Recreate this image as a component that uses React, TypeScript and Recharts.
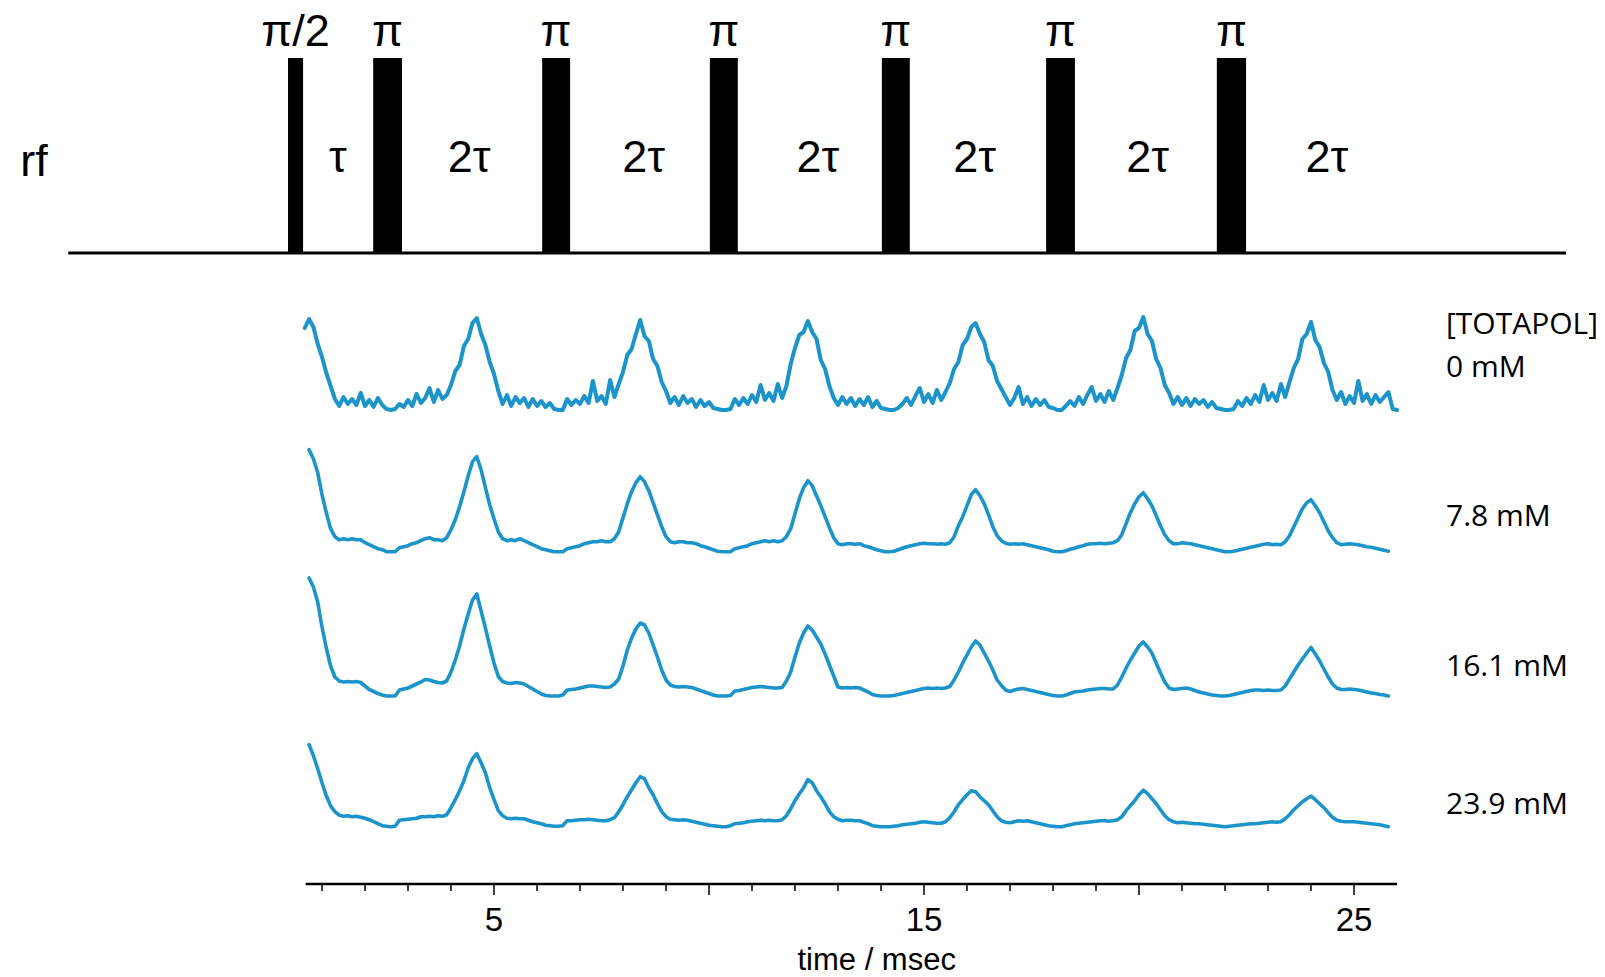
import {
  ComposedChart,
  Line,
  XAxis,
  YAxis,
  ReferenceArea,
  ReferenceLine,
  ReferenceDot,
} from "recharts";

// ---- data ------------------------------------------------------------

// pulse sequence (times in ms)
const pulseLabels = ["π/2", "π", "π", "π", "π", "π", "π"];
const pulseStart = [0.21, 2.19, 6.12, 10.02, 14.02, 17.84, 21.81];
const pulseEnd = [0.56, 2.86, 6.77, 10.67, 14.67, 18.51, 22.49];
const delayLabels = ["τ", "2τ", "2τ", "2τ", "2τ", "2τ", "2τ"];
const delayCenters = [1.37, 4.42, 8.48, 12.53, 16.18, 20.2, 24.37];

// echo trains, one sample every 0.1 ms, signal in a.u. above each baseline
const traceLabels = ["0 mM", "7.8 mM", "16.1 mM", "23.9 mM"];
const traceStart = [0.6, 0.7, 0.7, 0.7];
const SAMPLE_STEP = 0.1;

const signal0mM = [
  8.2, 9.1, 8.3, 6.6, 5.3, 3.7, 2.4, 1.1, 0.4, 1.3,
  0.6, 1.1, 0.5, 1.7, 0.4, 1.0, 0.3, 1.2, 0.5, 0.1,
  0.0, 0.1, 0.6, 0.3, 1.0, 0.4, 1.6, 0.7, 1.2, 2.2,
  0.8, 2.0, 1.1, 1.5, 2.5, 3.9, 4.5, 6.4, 7.1, 8.7,
  9.2, 7.6, 6.5, 4.8, 3.6, 1.9, 0.6, 1.5, 0.4, 1.3,
  0.7, 1.2, 0.3, 1.1, 0.4, 0.9, 0.3, 0.7, 0.1, 0.0,
  0.0, 1.1, 0.5, 1.0, 0.6, 1.4, 0.7, 2.9, 0.9, 1.4,
  0.6, 3.0, 1.3, 2.6, 3.8, 5.5, 6.1, 7.6, 9.0, 7.4,
  6.9, 5.1, 4.4, 2.8, 1.9, 0.7, 1.3, 0.5, 1.4, 0.7,
  1.1, 0.3, 1.0, 0.4, 0.8, 0.2, 0.1, 0.0, 0.0, 0.1,
  1.1, 0.5, 1.2, 0.6, 1.5, 0.8, 2.5, 1.0, 1.7, 0.9,
  2.6, 1.2, 2.4, 4.6, 6.2, 7.5, 7.8, 8.9, 7.8, 7.1,
  5.0, 4.1, 2.4, 1.2, 0.5, 1.3, 0.6, 1.2, 0.4, 1.1,
  0.5, 1.3, 0.3, 0.9, 0.2, 0.1, 0.0, 0.0, 0.2, 0.6,
  1.2, 0.5, 1.4, 2.2, 0.8, 1.6, 0.7, 2.0, 1.0, 1.8,
  2.7, 4.1, 4.8, 6.5, 7.1, 8.3, 8.7, 7.6, 6.8, 5.0,
  4.4, 2.9, 2.1, 1.3, 0.5, 1.2, 2.3, 0.6, 1.3, 0.4,
  1.1, 0.5, 1.0, 0.3, 0.2, 0.0, 0.0, 0.4, 0.9, 0.4,
  1.3, 0.6, 1.5, 2.3, 0.9, 1.6, 0.8, 1.9, 1.0, 2.2,
  3.5, 5.2, 6.0, 7.9, 8.2, 9.3, 7.6, 6.9, 5.1, 4.2,
  2.5, 1.7, 0.6, 1.3, 0.5, 1.2, 0.4, 1.1, 0.6, 1.0,
  0.3, 0.8, 0.2, 0.1, 0.0, 0.0, 0.1, 0.9, 0.4, 1.2,
  0.6, 1.5, 0.8, 2.5, 1.0, 1.7, 0.9, 2.6, 1.3, 2.8,
  4.2, 5.1, 7.1, 7.6, 8.8, 7.0, 6.3, 4.7, 3.8, 2.0,
  1.0, 1.8, 0.6, 1.4, 0.7, 2.9, 0.9, 1.6, 0.6, 1.5,
  0.8, 1.3, 1.8, 0.1, 0.0,
];

const signal7_8mM = [
  10.2, 9.3, 7.9, 5.7, 3.9, 2.3, 1.5, 1.2, 1.3, 1.2,
  1.3, 1.2, 1.2, 0.9, 0.7, 0.5, 0.3, 0.2, 0.0, 0.0,
  0.0, 0.4, 0.5, 0.6, 0.8, 0.9, 1.1, 1.3, 1.4, 1.2,
  1.2, 1.1, 1.4, 2.2, 3.2, 4.5, 6.0, 7.6, 9.0, 9.5,
  8.2, 6.4, 4.7, 3.3, 2.0, 1.3, 1.1, 1.2, 1.1, 1.3,
  1.1, 0.9, 0.7, 0.5, 0.3, 0.2, 0.1, 0.0, 0.0, 0.0,
  0.3, 0.4, 0.5, 0.6, 0.8, 0.9, 1.0, 1.0, 1.1, 1.0,
  1.0, 1.3, 2.0, 3.4, 4.8, 6.0, 6.9, 7.5, 7.0, 6.1,
  4.9, 3.7, 2.5, 1.5, 1.0, 0.9, 1.0, 1.0, 0.9, 0.9,
  0.8, 0.6, 0.5, 0.35, 0.2, 0.05, 0.0, 0.0, 0.0, 0.3,
  0.4, 0.5, 0.6, 0.8, 0.9, 1.0, 1.1, 1.0, 1.1, 1.0,
  1.1, 1.5, 2.3, 3.8, 5.3, 6.4, 7.1, 6.6, 5.6, 4.6,
  3.5, 2.4, 1.4, 0.8, 0.7, 0.8, 0.8, 0.75, 0.8, 0.6,
  0.5, 0.35, 0.2, 0.1, 0.0, 0.0, 0.05, 0.2, 0.35, 0.5,
  0.6, 0.7, 0.8, 0.85, 0.8, 0.8, 0.75, 0.8, 0.75, 0.9,
  1.5, 2.6, 3.5, 4.6, 5.7, 6.2, 5.6, 4.8, 3.7, 2.5,
  1.6, 1.1, 0.85, 0.75, 0.8, 0.75, 0.8, 0.7, 0.6, 0.5,
  0.4, 0.3, 0.2, 0.05, 0.0, 0.0, 0.1, 0.25, 0.35, 0.5,
  0.6, 0.75, 0.8, 0.8, 0.85, 0.8, 0.85, 0.9, 1.1, 1.7,
  2.8, 3.9, 4.8, 5.5, 5.9, 5.3, 4.6, 3.6, 2.6, 1.7,
  1.1, 0.8, 0.8, 0.9, 0.85, 0.8, 0.7, 0.6, 0.5, 0.4,
  0.3, 0.2, 0.1, 0.0, 0.0, 0.05, 0.15, 0.25, 0.35, 0.45,
  0.55, 0.65, 0.75, 0.8, 0.7, 0.75, 0.7, 1.0, 1.6, 2.5,
  3.4, 4.3, 4.9, 5.2, 4.6, 3.9, 3.0, 2.1, 1.4, 0.9,
  0.7, 0.75, 0.8, 0.75, 0.7, 0.6, 0.5, 0.45, 0.35, 0.25,
  0.15, 0.05,
];

const signal16_1mM = [
  11.8, 10.9, 9.4, 6.9, 4.8, 3.0, 1.9, 1.5, 1.4, 1.45,
  1.4, 1.45, 1.35, 1.0, 0.65, 0.45, 0.25, 0.1, 0.0, 0.0,
  0.0, 0.6, 0.7, 0.8, 1.0, 1.2, 1.4, 1.65, 1.6, 1.45,
  1.35, 1.3, 1.5, 2.4, 3.6, 5.0, 6.7, 8.2, 9.6, 10.2,
  8.5, 6.8, 5.0, 3.3, 1.95, 1.45, 1.3, 1.25, 1.35, 1.3,
  1.2, 0.95, 0.7, 0.45, 0.2, 0.05, 0.0, 0.0, 0.0, 0.1,
  0.6, 0.65, 0.7, 0.8, 0.9, 1.0, 1.0, 0.95, 0.9, 0.85,
  0.9, 1.2, 1.7, 3.0, 4.6, 5.8, 6.7, 7.3, 7.1, 6.3,
  5.1, 3.9, 2.6, 1.6, 1.1, 0.95, 0.9, 0.95, 0.9, 0.85,
  0.7, 0.55, 0.4, 0.25, 0.1, 0.0, 0.0, 0.0, 0.05, 0.5,
  0.55, 0.65, 0.75, 0.85, 0.9, 0.95, 0.9, 0.85, 0.8, 0.8,
  0.85, 1.5, 2.4, 3.9, 5.3, 6.3, 7.0, 6.6, 5.9, 5.2,
  4.2, 3.1, 2.0, 0.9, 0.8, 0.85, 0.8, 0.85, 0.8, 0.6,
  0.4, 0.15, 0.05, 0.0, 0.0, 0.0, 0.05, 0.15, 0.25, 0.35,
  0.45, 0.55, 0.65, 0.75, 0.8, 0.75, 0.8, 0.75, 0.8, 0.95,
  1.6, 2.4, 3.3, 4.1, 4.9, 5.5, 5.1, 4.3, 3.5, 2.6,
  1.6, 1.05, 0.6, 0.45, 0.6, 0.7, 0.75, 0.65, 0.55, 0.45,
  0.35, 0.25, 0.15, 0.05, 0.0, 0.0, 0.1, 0.25, 0.4, 0.45,
  0.5, 0.6, 0.65, 0.7, 0.75, 0.75, 0.7, 0.7, 1.1, 1.9,
  2.8, 3.6, 4.3, 5.0, 5.4, 4.9, 4.3, 3.3, 2.3, 1.4,
  0.8, 0.65, 0.7, 0.75, 0.8, 0.7, 0.55, 0.4, 0.3, 0.2,
  0.1, 0.05, 0.0, 0.0, 0.05, 0.15, 0.25, 0.35, 0.45, 0.55,
  0.6, 0.6, 0.55, 0.6, 0.55, 0.55, 0.6, 1.0, 1.7, 2.4,
  3.1, 3.7, 4.3, 4.85, 4.2, 3.5, 2.7, 1.9, 1.2, 0.8,
  0.65, 0.65, 0.7, 0.65, 0.6, 0.5, 0.4, 0.3, 0.25, 0.15,
  0.1, 0.0,
];

const signal23_9mM = [
  8.2, 7.1, 5.8, 4.4, 3.1, 2.1, 1.5, 1.15, 1.05, 1.1,
  1.0, 1.05, 0.95, 0.85, 0.7, 0.5, 0.3, 0.1, 0.05, 0.0,
  0.05, 0.65, 0.7, 0.75, 0.8, 0.85, 1.0, 1.0, 1.05, 1.0,
  1.1, 1.05, 1.2, 1.9, 2.7, 3.6, 4.6, 5.9, 6.8, 7.3,
  6.4, 5.4, 3.9, 2.7, 1.6, 1.1, 0.85, 0.8, 0.85, 0.8,
  0.8, 0.65, 0.5, 0.4, 0.3, 0.15, 0.1, 0.05, 0.05, 0.1,
  0.6, 0.6, 0.65, 0.7, 0.7, 0.75, 0.7, 0.65, 0.6, 0.6,
  0.7, 0.9, 1.5, 2.2, 3.0, 3.7, 4.4, 5.0, 4.8, 3.9,
  3.2, 2.3, 1.5, 1.0, 0.75, 0.7, 0.65, 0.7, 0.65, 0.55,
  0.45, 0.35, 0.25, 0.15, 0.1, 0.05, 0.0, 0.0, 0.1, 0.3,
  0.35, 0.4, 0.5, 0.55, 0.6, 0.65, 0.6, 0.65, 0.6, 0.6,
  0.7, 1.1, 1.8, 2.6, 3.3, 3.9, 4.7, 4.4, 3.6, 3.0,
  2.3, 1.5, 1.0, 0.75, 0.6, 0.65, 0.65, 0.6, 0.6, 0.45,
  0.3, 0.1, 0.05, 0.0, 0.0, 0.0, 0.05, 0.1, 0.2, 0.25,
  0.3, 0.35, 0.45, 0.5, 0.45, 0.4, 0.35, 0.35, 0.5, 0.9,
  1.5, 2.2, 2.7, 3.2, 3.6, 3.5, 3.0, 2.6, 2.2, 1.6,
  1.0, 0.6, 0.45, 0.4, 0.5, 0.6, 0.55, 0.6, 0.5, 0.4,
  0.3, 0.2, 0.1, 0.05, 0.0, 0.0, 0.1, 0.2, 0.3, 0.35,
  0.4, 0.45, 0.5, 0.55, 0.6, 0.6, 0.55, 0.6, 0.7, 1.0,
  1.6, 2.1, 2.6, 3.2, 3.65, 3.3, 2.8, 2.3, 1.7, 1.1,
  0.7, 0.5, 0.4, 0.45, 0.4, 0.35, 0.3, 0.3, 0.25, 0.2,
  0.15, 0.1, 0.05, 0.0, 0.05, 0.1, 0.15, 0.2, 0.25, 0.3,
  0.3, 0.35, 0.4, 0.45, 0.5, 0.45, 0.5, 0.8, 1.2, 1.7,
  2.1, 2.5, 2.8, 3.05, 2.7, 2.3, 1.9, 1.4, 0.95, 0.65,
  0.55, 0.5, 0.5, 0.5, 0.45, 0.4, 0.35, 0.3, 0.25, 0.2,
  0.1, 0.0,
];

const timeTicks = [
  1, 2, 3, 4, 5, 6, 7, 8, 9, 10, 11, 12, 13, 14, 15, 16, 17, 18, 19, 20, 21,
  22, 23, 24, 25,
];
const labelledTicks = [5, 15, 25];

// ---- layout ----------------------------------------------------------

const W = 1605;
const H = 977;
const BLUE = "#1b94cb";
const SANS = "'Liberation Sans', Arial, Helvetica, sans-serif";
const LEGEND_FONT = "'Open Sans', 'Noto Sans', sans-serif";

// plot area is 884px tall; one y unit = 10px
const Y_MAX = 88.4;
const RF_BASE = 63.1;
const RF_TOP = 82.6;
const TRACE_OFFSET = [47.4, 33.23, 18.8, 5.73];
const AXIS_FROM = 0.62;
const AXIS_TO = 26.0;

const signals = [signal0mM, signal7_8mM, signal16_1mM, signal23_9mM];
const traces = signals.map((vals, k) =>
  vals.map((v, i) => ({
    t: Math.round((traceStart[k] + i * SAMPLE_STEP) * 100) / 100,
    v: v + TRACE_OFFSET[k],
  }))
);

const textAt =
  (
    text: string,
    size: number,
    anchor: "start" | "middle" = "middle",
    font = SANS,
    baseline = "alphabetic"
  ) =>
  // eslint-disable-next-line @typescript-eslint/no-explicit-any
  (p: any) =>
    (
      <text
        x={p.cx}
        y={p.cy}
        textAnchor={anchor}
        dominantBaseline={baseline}
        fontSize={size}
        fontFamily={font}
        fill="#000"
      >
        {text}
      </text>
    );

// eslint-disable-next-line @typescript-eslint/no-explicit-any
const TimeTick = ({ x, y, payload }: any) => {
  const v = payload.value;
  const major = v % 5 === 0;
  return (
    <g>
      <line
        x1={x}
        y1={y}
        x2={x}
        y2={y + (major ? 11 : 7)}
        stroke="#000"
        strokeWidth={1.5}
      />
      {labelledTicks.includes(v) && (
        <text
          x={x}
          y={y + 47}
          textAnchor="middle"
          fontSize={33}
          fontFamily={SANS}
          fill="#000"
        >
          {v}
        </text>
      )}
    </g>
  );
};

export default function App() {
  return (
    <div style={{ position: "absolute", left: 0, top: 0, background: "#fff" }}>
      <ComposedChart
        width={W}
        height={H}
        margin={{ top: 0, right: 36, bottom: 0, left: 64 }}
      >
        <XAxis
          type="number"
          dataKey="t"
          domain={[-5, 30]}
          allowDataOverflow
          ticks={timeTicks}
          interval={0}
          tick={<TimeTick />}
          tickLine={false}
          axisLine={false}
          tickSize={0}
          tickMargin={0}
          height={93}
        />
        <YAxis type="number" domain={[0, Y_MAX]} allowDataOverflow hide width={0} />

        {/* rf channel */}
        <ReferenceLine
          segment={[
            { x: -4.9, y: RF_BASE },
            { x: 29.93, y: RF_BASE },
          ]}
          stroke="#000"
          strokeWidth={3}
        />
        {pulseStart.map((s, i) => (
          <ReferenceArea
            key={`p${i}`}
            x1={s}
            x2={pulseEnd[i]}
            y1={RF_BASE}
            y2={RF_TOP}
            fill="#000"
            fillOpacity={1}
            stroke="none"
          />
        ))}
        {pulseLabels.map((lab, i) => (
          <ReferenceDot
            key={`pl${i}`}
            x={(pulseStart[i] + pulseEnd[i]) / 2}
            y={83.8}
            r={0}
            ifOverflow="visible"
            shape={textAt(lab, 45)}
          />
        ))}
        {delayLabels.map((lab, i) => (
          <ReferenceDot
            key={`dl${i}`}
            x={delayCenters[i]}
            y={71.2}
            r={0}
            ifOverflow="visible"
            shape={textAt(lab, 45)}
          />
        ))}
        <ReferenceDot
          x={-5.7}
          y={70.8}
          r={0}
          ifOverflow="visible"
          shape={textAt("rf", 45)}
        />

        {/* echo trains */}
        {traces.map((rows, k) => (
          <Line
            key={traceLabels[k]}
            data={rows}
            dataKey="v"
            type="linear"
            stroke={BLUE}
            strokeWidth={k === 0 ? 4 : 3.6}
            strokeLinejoin="round"
            strokeLinecap="round"
            dot={false}
            isAnimationActive={false}
          />
        ))}

        {/* concentration labels */}
        <ReferenceDot
          x={27.14}
          y={56.2}
          r={0}
          ifOverflow="visible"
          shape={textAt("[TOTAPOL]", 30, "start", LEGEND_FONT, "central")}
        />
        {traceLabels.map((lab, k) => (
          <ReferenceDot
            key={`tl${k}`}
            x={27.14}
            y={[51.9, 37.0, 22.0, 8.2][k]}
            r={0}
            ifOverflow="visible"
            shape={textAt(lab, 30, "start", LEGEND_FONT, "central")}
          />
        ))}

        {/* time axis */}
        <ReferenceLine
          segment={[
            { x: AXIS_FROM, y: 0 },
            { x: AXIS_TO, y: 0 },
          ]}
          stroke="#000"
          strokeWidth={2.5}
        />
        <ReferenceDot
          x={13.9}
          y={-7.5}
          r={0}
          ifOverflow="visible"
          shape={textAt("time / msec", 31, "middle", SANS, "central")}
        />
      </ComposedChart>
    </div>
  );
}
